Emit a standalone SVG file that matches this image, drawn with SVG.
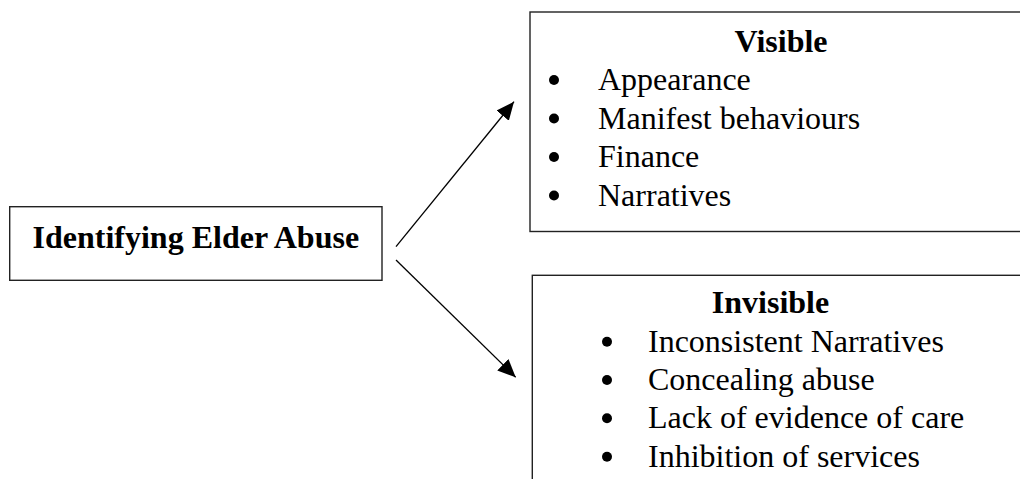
<svg xmlns="http://www.w3.org/2000/svg" width="1020" height="479" viewBox="0 0 1020 479">
<style>
.box{fill:#fff;stroke:#222;stroke-width:1.4}
.t{font-family:"Liberation Serif","Times New Roman",serif;font-size:32px;fill:#000}
.b{font-weight:bold}
.c{stroke:#000;stroke-width:1.3;fill:none}
.dot{fill:#000}
</style>
<defs>
<marker id="ah" markerUnits="userSpaceOnUse" markerWidth="18" markerHeight="16" refX="18" refY="8" orient="auto">
<path d="M0,0 L18,8 L0,16 Z" fill="#000"/>
</marker>
</defs>
<rect width="1020" height="479" fill="#fff"/>
<g id="root">
<rect class="box" x="9.7" y="206.7" width="372.3" height="73.6"/>
<text class="t b" x="195.8" y="247.7" text-anchor="middle">Identifying Elder Abuse</text>
</g>
<g id="visible">
<rect class="box" x="530" y="12" width="500" height="219.5"/>
<text class="t b" x="781" y="52" text-anchor="middle">Visible</text>
<circle class="dot" cx="554" cy="80" r="5"/>
<text class="t" x="598" y="90">Appearance</text>
<circle class="dot" cx="554" cy="118.5" r="5"/>
<text class="t" x="598" y="128.5">Manifest behaviours</text>
<circle class="dot" cx="554" cy="157" r="5"/>
<text class="t" x="598" y="167">Finance</text>
<circle class="dot" cx="554" cy="195.5" r="5"/>
<text class="t" x="598" y="205.5">Narratives</text>
</g>
<g id="invisible">
<rect class="box" x="532.3" y="275.3" width="500" height="220"/>
<text class="t b" x="770.5" y="313" text-anchor="middle">Invisible</text>
<circle class="dot" cx="607" cy="341.7" r="5"/>
<text class="t" x="648" y="351.7">Inconsistent Narratives</text>
<circle class="dot" cx="607" cy="380" r="5"/>
<text class="t" x="648" y="390">Concealing abuse</text>
<circle class="dot" cx="607" cy="418.3" r="5"/>
<text class="t" x="648" y="428.3">Lack of evidence of care</text>
<circle class="dot" cx="607" cy="456.7" r="5"/>
<text class="t" x="648" y="466.7">Inhibition of services</text>
</g>
<g id="connectors">
<line class="c" x1="396" y1="246.7" x2="514" y2="101.7" marker-end="url(#ah)"/>
<line class="c" x1="396" y1="260" x2="515.7" y2="377.3" marker-end="url(#ah)"/>
</g>
</svg>
